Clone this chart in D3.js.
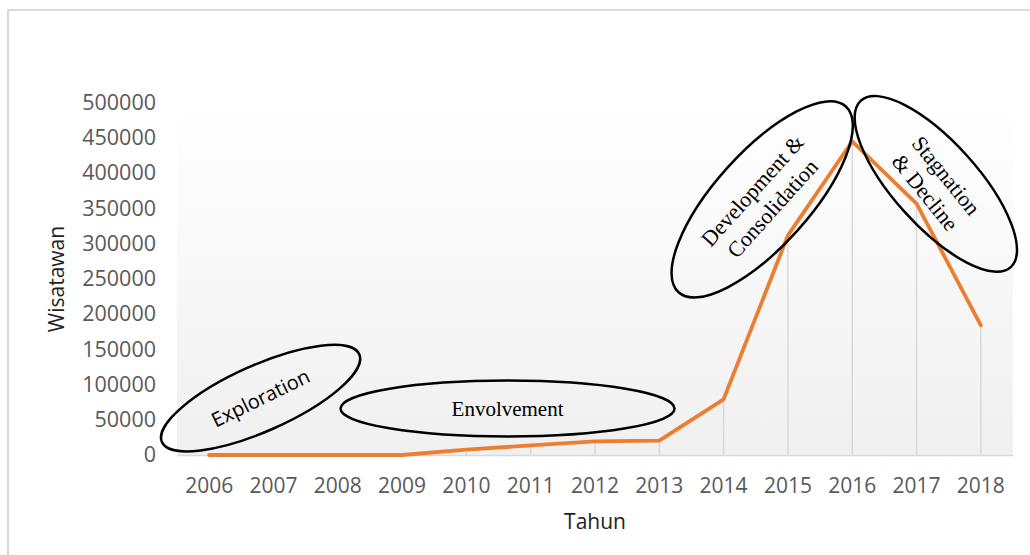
<!DOCTYPE html>
<html>
<head>
<meta charset="utf-8">
<script src="https://cdn.jsdelivr.net/npm/d3@7"></script>
<style>
  body { margin: 0; background: #fff; }
  svg { display: block; }
</style>
</head>
<body>
<svg id="chart"></svg>
<script>
// values
var years = ["2006", "2007", "2008", "2009", "2010", "2011", "2012",
             "2013", "2014", "2015", "2016", "2017", "2018"];
var wisatawan = [0, 0, 0, 0, 7600, 13700, 19400, 20400, 79000, 311500, 445000, 356500, 184000];
var yTicks = [0, 50000, 100000, 150000, 200000, 250000, 300000, 350000, 400000, 450000, 500000];

// phase ellipses: centre as (category index, value)
var phaseNames = [["Exploration"], ["Envolvement"], ["Development &", "Consolidation"], ["Stagnation", "& Decline"]];
var phaseIdx = [0.8, 4.64, 8.6, 11.3];
var phaseVal = [80700, 65900, 362600, 384600];

var W = 1030, H = 555;
var svg = d3.select("#chart").attr("width", W).attr("height", H);

// outer chart border (runs off the picture on right / bottom)
svg.append("rect")
  .attr("x", 8).attr("y", 10)
  .attr("width", 1040).attr("height", 560)
  .style("fill", "#fff")
  .style("stroke", "#d9d9d9")
  .style("stroke-width", 2);

var x = d3.scaleBand().domain(years).range([177, 1013]).padding(0);
var y = d3.scaleLinear().domain([0, 500000]).range([455, 102.5]);

function px(i) { return x.range()[0] + (i + 0.5) * x.step(); }

// plot area gradient fill
var defs = svg.append("defs");
var grad = defs.append("linearGradient").attr("id", "pa")
  .attr("x1", 0).attr("y1", 0).attr("x2", 0).attr("y2", 1);
grad.append("stop").attr("offset", "0%").attr("stop-color", "#ffffff");
grad.append("stop").attr("offset", "100%").attr("stop-color", "#f0f0f0");

svg.append("rect")
  .attr("x", x.range()[0]).attr("y", y(500000))
  .attr("width", x.range()[1] - x.range()[0])
  .attr("height", y(0) - y(500000))
  .style("fill", "url(#pa)");

// drop lines
svg.selectAll(".drop")
  .data(wisatawan).enter().append("line")
  .attr("x1", function(d, i) { return px(i); })
  .attr("x2", function(d, i) { return px(i); })
  .attr("y1", y(0))
  .attr("y2", function(d) { return y(d); })
  .style("stroke", "#d9d9d9")
  .style("stroke-width", 1.5);

// axes
var gx = svg.append("g")
  .attr("transform", "translate(0," + y(0) + ")")
  .call(d3.axisBottom(x).tickSize(0).tickSizeOuter(0).tickPadding(23));
gx.select(".domain").style("stroke", "#d9d9d9").style("stroke-width", 1.5);
gx.selectAll("text")
  .style("font-family", "'Open Sans', sans-serif")
  .style("font-size", "21px")
  .style("fill", "#595959");

var gy = svg.append("g")
  .attr("transform", "translate(" + x.range()[0] + ",0)")
  .call(d3.axisLeft(y).tickValues(yTicks).tickFormat(d3.format("d")).tickSize(0).tickPadding(21));
gy.select(".domain").remove();
gy.selectAll("text")
  .style("font-family", "'Open Sans', sans-serif")
  .style("font-size", "21.5px")
  .style("fill", "#595959");

// axis titles
svg.append("text")
  .attr("transform", "translate(64,279) rotate(-90)")
  .style("text-anchor", "middle")
  .style("font-family", "'Open Sans', sans-serif")
  .style("font-size", "21px")
  .style("fill", "#222")
  .text("Wisatawan");

svg.append("text")
  .attr("x", 595).attr("y", 529)
  .style("text-anchor", "middle")
  .style("font-family", "'Open Sans', sans-serif")
  .style("font-size", "21px")
  .style("fill", "#222")
  .text("Tahun");

// the series line
var line = d3.line()
  .x(function(d, i) { return px(i); })
  .y(function(d) { return y(d); });

svg.append("path")
  .datum(wisatawan)
  .attr("d", line)
  .style("fill", "none")
  .style("stroke", "#ed7d31")
  .style("stroke-width", 3.8)
  .style("stroke-linejoin", "round")
  .style("stroke-linecap", "round");

// annotation ellipses
var ellR = [[108, 33], [167, 28], [125, 47], [112, 42]];
var ellRot = [-24, 0, -48, 48];
var txtRot = [-26, 0, -48, 51];
var fonts = ["'Open Sans', sans-serif", "'Liberation Serif', serif", "'Liberation Serif', serif", "'Liberation Serif', serif"];
var fsize = [20, 21, 22, 22];

var ann = svg.selectAll(".phase")
  .data(phaseNames).enter().append("g")
  .attr("transform", function(d, i) {
    return "translate(" + px(phaseIdx[i]) + "," + y(phaseVal[i]) + ")";
  });

ann.append("ellipse")
  .attr("rx", function(d, i) { return ellR[i][0]; })
  .attr("ry", function(d, i) { return ellR[i][1]; })
  .attr("transform", function(d, i) { return "rotate(" + ellRot[i] + ")"; })
  .style("fill", "none")
  .style("stroke", "#000")
  .style("stroke-width", 2.5);

ann.append("text")
  .attr("transform", function(d, i) { return "rotate(" + txtRot[i] + ")"; })
  .style("text-anchor", "middle")
  .style("font-family", function(d, i) { return fonts[i]; })
  .style("font-size", function(d, i) { return fsize[i] + "px"; })
  .style("fill", "#000")
  .each(function(d) {
    var t = d3.select(this);
    var lh = 27;
    var start = -(d.length - 1) * lh / 2;
    d.forEach(function(s, k) {
      t.append("tspan")
        .attr("x", 0)
        .attr("y", start + k * lh)
        .attr("dy", "0.35em")
        .text(s);
    });
  });
</script>
</body>
</html>
